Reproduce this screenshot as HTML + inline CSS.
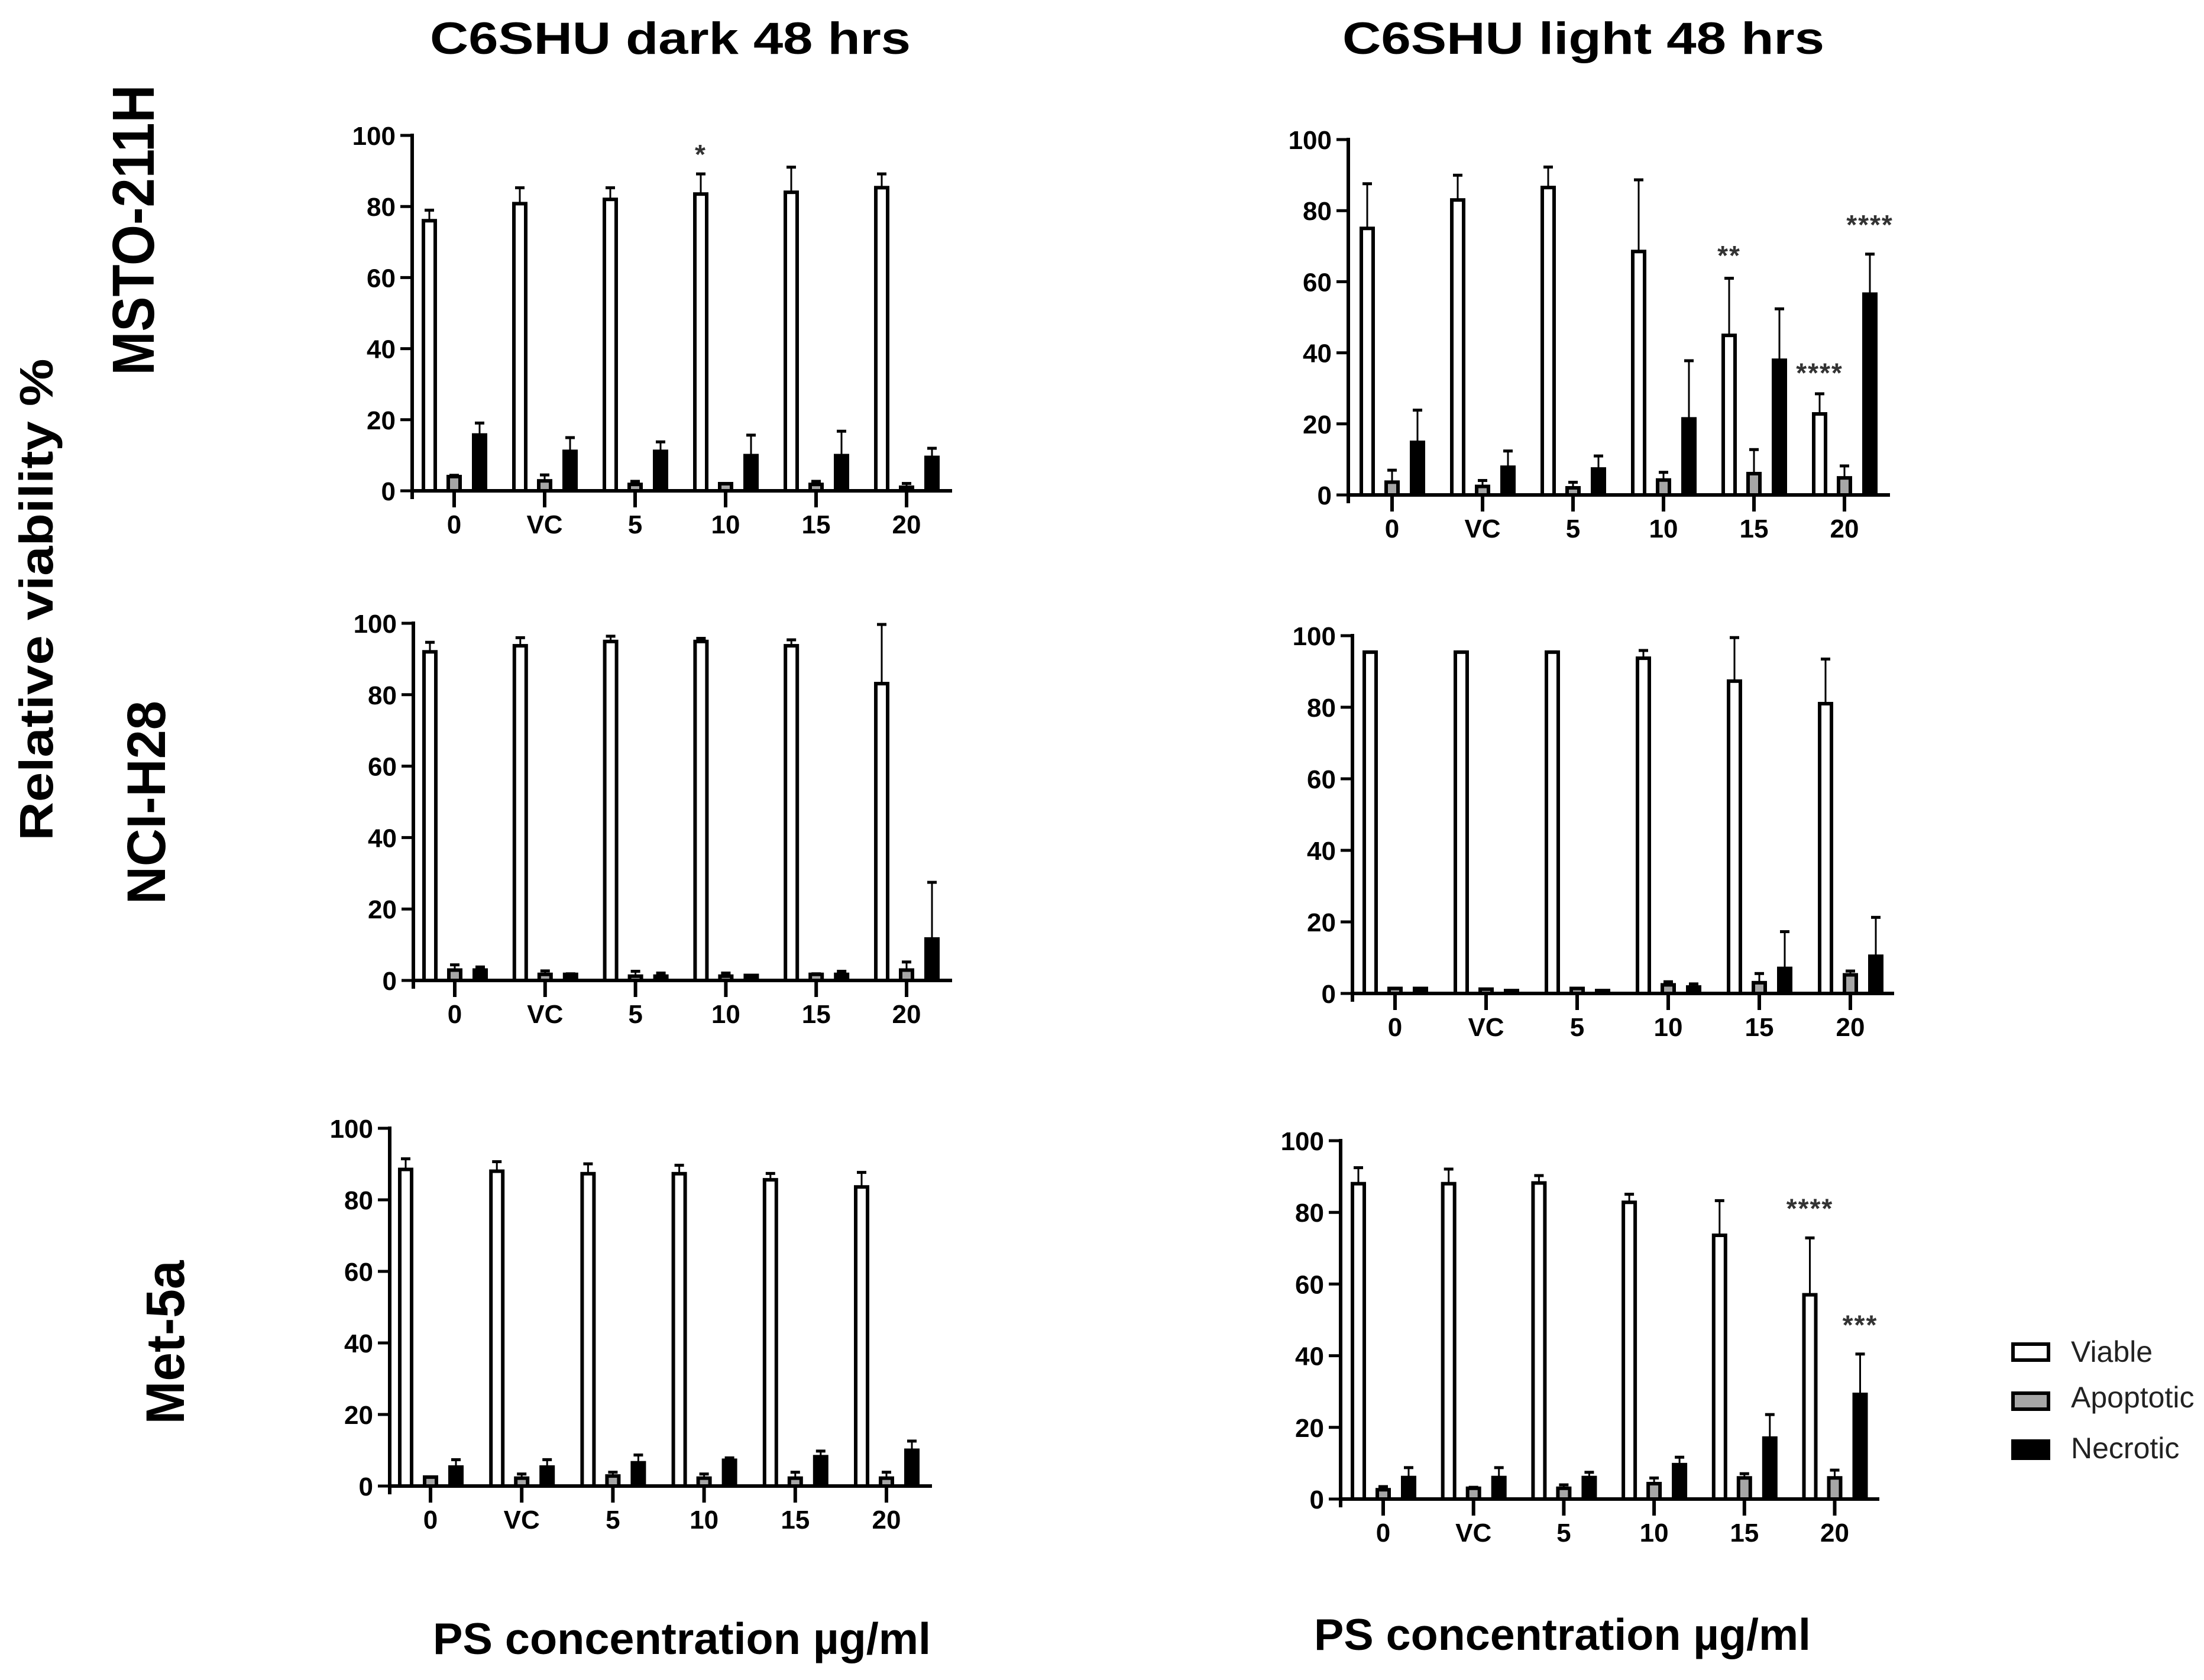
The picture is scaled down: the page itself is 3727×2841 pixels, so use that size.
<!DOCTYPE html>
<html><head><meta charset="utf-8"><title>C6SHU viability</title>
<style>html,body{margin:0;padding:0;background:#fff}svg{display:block}</style></head>
<body>
<svg id="fig" xmlns="http://www.w3.org/2000/svg" width="3727" height="2841" viewBox="0 0 3727 2841" font-family="Liberation Sans, Arial, sans-serif">
<rect width="3727" height="2841" fill="#fff"/>
<text x="727" y="91" font-size="76" font-weight="bold" textLength="813" lengthAdjust="spacingAndGlyphs">C6SHU dark 48 hrs</text>
<text x="2270" y="91" font-size="76" font-weight="bold" textLength="815" lengthAdjust="spacingAndGlyphs">C6SHU light 48 hrs</text>
<text transform="translate(89,1014) rotate(-90)" text-anchor="middle" font-size="80" font-weight="bold" textLength="815" lengthAdjust="spacingAndGlyphs">Relative viability %</text>
<text transform="translate(260,389) rotate(-90)" text-anchor="middle" font-size="100" font-weight="bold" textLength="491" lengthAdjust="spacingAndGlyphs">MSTO-211H</text>
<text transform="translate(279,1357) rotate(-90)" text-anchor="middle" font-size="92" font-weight="bold" textLength="344" lengthAdjust="spacingAndGlyphs">NCI-H28</text>
<text transform="translate(311,2270) rotate(-90)" text-anchor="middle" font-size="92" font-weight="bold" textLength="277" lengthAdjust="spacingAndGlyphs">Met-5a</text>
<text x="732" y="2797" font-size="75" font-weight="bold" textLength="842" lengthAdjust="spacingAndGlyphs">PS concentration µg/ml</text>
<text x="2222" y="2790" font-size="75" font-weight="bold" textLength="840" lengthAdjust="spacingAndGlyphs">PS concentration µg/ml</text>
<g>
  <g>
    <rect x="3404" y="2273" width="60" height="27" fill="#fff" stroke="#000" stroke-width="6"/>
    <text x="3502" y="2303" font-size="50" fill="#222">Viable</text>
  </g>
  <g>
    <rect x="3404" y="2356" width="60" height="27" fill="#a6a6a6" stroke="#000" stroke-width="6"/>
    <text x="3502" y="2380" font-size="50" fill="#222">Apoptotic</text>
  </g>
  <g>
    <rect x="3401" y="2434" width="66" height="35" fill="#000"/>
    <text x="3502" y="2466" font-size="50" fill="#222">Necrotic</text>
  </g>
</g>
<g id="panels"></g>
</svg>
<script>
const categories = ["0","VC","5","10","15","20"];
const yTicks = [0,20,40,60,80,100];
const seriesNames = ["viable","apoptotic","necrotic"];

const p1Viable = [76,80.8,82,83.5,84,85.3];   const p1ViableSd = [3.3,4.8,3.6,6,7.4,4.2];
const p1Apop = [4,2.8,1.8,2,1.8,1];           const p1ApopSd = [0.7,2,1.2,0.4,1.2,1.4];
const p1Nec = [15.7,11.1,11.1,9.9,9.9,9.4];   const p1NecSd = [3.7,4.2,3,6.1,7.2,2.9];

const p2Viable = [75,83,86.5,68.5,44.9,22.8]; const p2ViableSd = [12.9,7.3,6.1,20.5,16.4,6];
const p2Apop = [3.6,2.4,2,4.2,6,4.8];         const p2ApopSd = [3.7,2,1.9,2.5,7.1,3.7];
const p2Nec = [14.8,7.8,7.3,21.4,37.9,56.5];  const p2NecSd = [9.4,4.9,4,16.7,14.8,11.6];

const p3Viable = [92,93.7,94.9,94.9,93.7,83.1]; const p3ViableSd = [3,2.6,1.8,1.2,2,16.9];
const p3Apop = [2.9,1.7,1.2,1.2,1.7,2.9];       const p3ApopSd = [1.8,1.3,1.7,1.2,0.5,2.6];
const p3Nec = [2.9,1.7,1.2,1.4,1.7,11.6];       const p3NecSd = [1.2,0.5,1.2,0.3,1.2,16.2];

const p4Viable = [95.4,95.4,95.4,93.7,87.3,81]; const p4ViableSd = [0.4,0.4,0.4,2.5,12.5,12.8];
const p4Apop = [1.4,1.2,1.4,2.4,3,5.2];         const p4ApopSd = [0.4,0.3,0.3,1.2,2.9,1.4];
const p4Nec = [1.4,0.8,0.8,1.8,7,10.4];         const p4NecSd = [0.3,0.2,0.2,1.2,10.6,11.2];

const p5Viable = [88.5,88,87.3,87.3,85.6,83.6]; const p5ViableSd = [3.3,3,3.1,2.7,2.1,4.4];
const p5Apop = [2.5,2.2,2.8,2.2,2.2,2.2];       const p5ApopSd = [0.4,1.5,1.4,1.5,2,2];
const p5Nec = [5.3,5.3,6.5,7.2,8.2,10];         const p5NecSd = [2.4,2.4,2.5,1,1.9,2.9];

const p6Viable = [88,88,88.2,82.8,73.6,57];     const p6ViableSd = [4.8,4.4,2.4,2.6,10,16.2];
const p6Apop = [2.6,3,3,4.3,5.9,5.9];           const p6ApopSd = [1.2,0.6,1.3,1.9,1.5,2.5];
const p6Nec = [6,6,6,9.6,17,29.2];              const p6NecSd = [3.1,3.1,1.8,2.4,6.9,11.6];

// significance: [categoryIndex, seriesIndex, yValue, label]
const p1Stars = [[3,0,95,"*"]];
const p2Stars = [[4,0,67.7,"**"],[5,0,34.7,"****"],[5,2,76.4,"****"]];
const p6Stars = [[5,0,81.4,"****"],[5,2,48.9,"***"]];

const panelData = [
  {name:"msto-dark", means:[p1Viable,p1Apop,p1Nec], sds:[p1ViableSd,p1ApopSd,p1NecSd], stars:p1Stars},
  {name:"msto-light", means:[p2Viable,p2Apop,p2Nec], sds:[p2ViableSd,p2ApopSd,p2NecSd], stars:p2Stars},
  {name:"nci-dark", means:[p3Viable,p3Apop,p3Nec], sds:[p3ViableSd,p3ApopSd,p3NecSd], stars:[]},
  {name:"nci-light", means:[p4Viable,p4Apop,p4Nec], sds:[p4ViableSd,p4ApopSd,p4NecSd], stars:[]},
  {name:"met-dark", means:[p5Viable,p5Apop,p5Nec], sds:[p5ViableSd,p5ApopSd,p5NecSd], stars:[]},
  {name:"met-light", means:[p6Viable,p6Apop,p6Nec], sds:[p6ViableSd,p6ApopSd,p6NecSd], stars:p6Stars}
];

// geometry (pixels)
const geo = [
  {ax:697, y100:229, y0:830, xend:1610, first:768, step:153},
  {ax:2280, y100:236, y0:837, xend:3196, first:2354, step:153},
  {ax:699, y100:1054, y0:1658, xend:1610, first:769, step:152.8},
  {ax:2287, y100:1075, y0:1680, xend:3203, first:2359, step:154},
  {ax:659, y100:1908, y0:2513, xend:1576, first:728, step:154.2},
  {ax:2267, y100:1929, y0:2535, xend:3178, first:2339, step:152.7}
];
const offsets = [-42, 0, 43];
const fills = ["#ffffff","#a6a6a6","#000000"];
const NS = "http://www.w3.org/2000/svg";
const root = document.getElementById("panels");
function mk(tag, attrs, parent){
  const e = document.createElementNS(NS, tag);
  for (const k in attrs) e.setAttribute(k, attrs[k]);
  parent.appendChild(e);
  return e;
}
panelData.forEach((pd, pi) => {
  const g = geo[pi];
  const yS = v => g.y0 - (v/100)*(g.y0 - g.y100);
  const xS = i => g.first + i*g.step;
  const pg = mk("g", {}, root);
  
  
  // bars
  pd.means.forEach((arr, si) => {
    arr.forEach((v, ci) => {
      const cx = xS(ci) + offsets[si];
      const top = yS(v), sdTop = yS(v + pd.sds[si][ci]);
      const eb = mk("line", {x1:cx, x2:cx, y1:top, y2:sdTop, stroke:"#000", "stroke-width":3}, pg);
      
      
      const cap = mk("line", {x1:cx-8, x2:cx+8, y1:sdTop+2, y2:sdTop+2, stroke:"#000", "stroke-width":5}, pg);
      
      
      let r;
      if (si === 2) {
        r = mk("rect", {x:cx-13, y:top-3, width:26, height:g.y0-top+3, fill:"#000"}, pg);
      } else {
        r = mk("rect", {x:cx-10, y:top, width:20, height:Math.max(g.y0-top,0), fill:fills[si], stroke:"#000", "stroke-width":6}, pg);
      }
      
      
    });
  });
  // axes
  const ya = mk("line", {x1:g.ax, x2:g.ax, y1:g.y100-3, y2:g.y0+14, stroke:"#000", "stroke-width":6}, pg);
  
  
  const xa = mk("line", {x1:g.ax, x2:g.xend, y1:g.y0, y2:g.y0, stroke:"#000", "stroke-width":6}, pg);
  
  
  yTicks.forEach(t => {
    const y = yS(t);
    const tk = mk("line", {x1:g.ax-20, x2:g.ax, y1:y, y2:y, stroke:"#000", "stroke-width":5}, pg);
    
    
    const tl = mk("text", {x:g.ax-28, y:y+16, "text-anchor":"end", "font-size":44, "font-weight":"bold"}, pg);
    tl.textContent = t;
    
    
  });
  categories.forEach((c, ci) => {
    const x = xS(ci);
    const tk = mk("line", {x1:x, x2:x, y1:g.y0, y2:g.y0+28, stroke:"#000", "stroke-width":6}, pg);
    
    
    const tl = mk("text", {x:x, y:g.y0+72, "text-anchor":"middle", "font-size":44, "font-weight":"bold"}, pg);
    tl.textContent = c;
    
    
  });
  pd.stars.forEach(s => {
    const st = mk("text", {x:xS(s[0]) + offsets[s[1]], y:yS(s[2]) + 18, "text-anchor":"middle", "font-size":46, "font-weight":"bold", fill:"#333", "letter-spacing":"2"}, pg);
    st.textContent = s[3];
    
    
  });
});
</script>
</body></html>
